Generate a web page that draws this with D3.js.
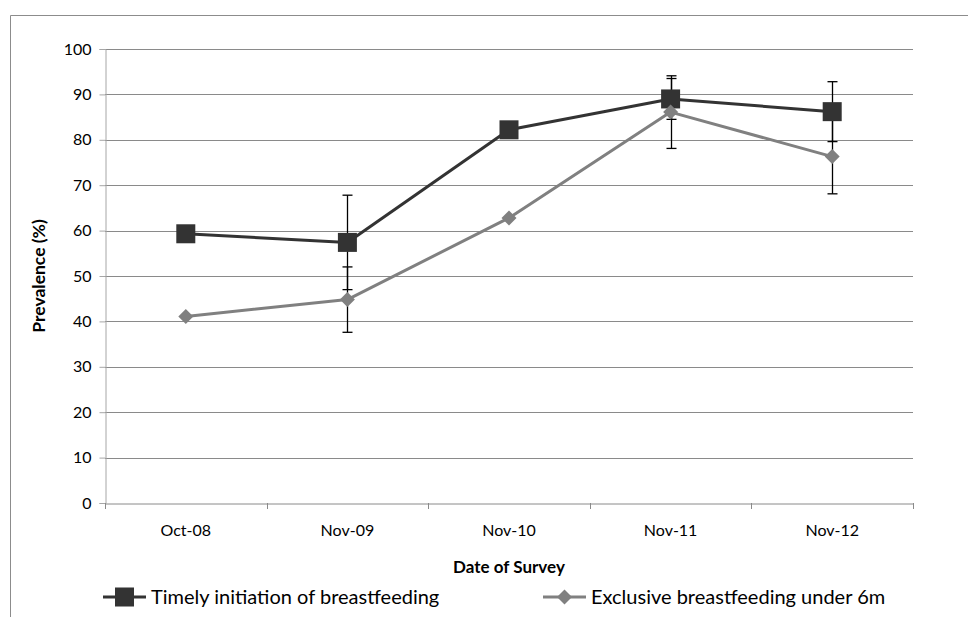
<!DOCTYPE html>
<html>
<head>
<meta charset="utf-8">
<script src="https://cdn.jsdelivr.net/npm/d3@7"></script>
<style>
  html, body { margin: 0; padding: 0; background: #fff; }
  svg { display: block; font-family: Lato, "Open Sans", sans-serif; }
</style>
</head>
<body>
<svg id="chart" width="968" height="617"></svg>
<script>
// Survey rounds
const surveys = ["Oct-08", "Nov-09", "Nov-10", "Nov-11", "Nov-12"];

// Prevalence (%) per survey
const timelyInitiation = [59.3, 57.4, 82.2, 89.0, 86.2];
const exclusiveUnder6m = [41.1, 44.8, 62.8, 86.1, 76.3];

// 95% confidence half-widths (null where not reported)
const timelyError = [null, 10.4, null, 4.5, 6.6];
const exclusiveError = [null, 7.2, null, 8.0, 8.2];

const yTicks = [0, 10, 20, 30, 40, 50, 60, 70, 80, 90, 100];

const series = [
  { name: "Timely initiation of breastfeeding", values: timelyInitiation, errors: timelyError,
    color: "#333333", marker: "square" },
  { name: "Exclusive breastfeeding under 6m", values: exclusiveUnder6m, errors: exclusiveError,
    color: "#808080", marker: "diamond" }
];

const svg = d3.select("#chart");
const plot = { left: 105, right: 913, top: 49, bottom: 503 };

// Outer chart frame
svg.append("path")
  .attr("d", "M10.5,617 L10.5,15.5 L968,15.5")
  .attr("fill", "none").attr("stroke", "#8c8c8c").attr("stroke-width", 1);

const x = d3.scaleBand().domain(surveys).range([plot.left, plot.right]);
const y = d3.scaleLinear().domain([0, 100]).range([plot.bottom, plot.top]);
const cx = d => x(d) + x.bandwidth() / 2;

// Horizontal gridlines
svg.append("g").selectAll("line").data(yTicks.filter(t => t > 0)).join("line")
  .attr("x1", plot.left).attr("x2", plot.right)
  .attr("y1", d => Math.round(y(d)) + 0.5).attr("y2", d => Math.round(y(d)) + 0.5)
  .attr("stroke", "#8a8a8a").attr("stroke-width", 1);

// Y axis
const yAxis = svg.append("g")
  .attr("transform", `translate(${plot.left + 0.5},0)`)
  .call(d3.axisLeft(y).tickValues(yTicks).tickSize(6).tickPadding(8));
yAxis.select(".domain").attr("stroke", "#a6a6a6");
yAxis.selectAll(".tick line").attr("stroke", "#a6a6a6");
yAxis.selectAll(".tick text").attr("font-size", 16).attr("fill", "#000")
  .attr("font-family", "Lato, sans-serif");

// X axis
const xAxis = svg.append("g")
  .attr("transform", `translate(0,${Math.round(plot.bottom) + 0.5})`)
  .call(d3.axisBottom(x).tickSize(0).tickPadding(21));
xAxis.select(".domain").attr("stroke", "#8a8a8a");
xAxis.selectAll(".tick text").attr("font-size", 16).attr("fill", "#000")
  .attr("font-family", "Lato, sans-serif");
// Category boundary ticks
const bounds = surveys.map(d => x(d)).concat([plot.right]);
svg.append("g").selectAll("line").data(bounds).join("line")
  .attr("x1", d => Math.round(d) + 0.5).attr("x2", d => Math.round(d) + 0.5)
  .attr("y1", plot.bottom).attr("y2", plot.bottom + 6)
  .attr("stroke", "#8a8a8a");

// Axis titles
svg.append("text")
  .attr("transform", `translate(45,${(plot.top + plot.bottom) / 2}) rotate(-90)`)
  .attr("text-anchor", "middle").attr("font-weight", "bold").attr("font-size", 17.5)
  .text("Prevalence (%)");
svg.append("text")
  .attr("x", (plot.left + plot.right) / 2).attr("y", 573)
  .attr("text-anchor", "middle").attr("font-weight", "bold").attr("font-size", 17)
  .text("Date of Survey");

// Series lines
const line = d3.line().x((d, i) => cx(surveys[i])).y(d => y(d));
series.forEach(s => {
  svg.append("path").datum(s.values)
    .attr("d", line).attr("fill", "none")
    .attr("stroke", s.color).attr("stroke-width", 3).attr("stroke-linejoin", "round");
});

// Error bars
series.forEach(s => {
  const g = svg.append("g").attr("stroke", "#000").attr("stroke-width", 1.3);
  s.values.forEach((v, i) => {
    const e = s.errors[i];
    if (e == null) return;
    const xc = Math.round(cx(surveys[i])) + 0.5;
    g.append("line").attr("x1", xc).attr("x2", xc).attr("y1", y(v + e)).attr("y2", y(v - e));
    [v + e, v - e].forEach(b => {
      g.append("line").attr("x1", xc - 5).attr("x2", xc + 5).attr("y1", y(b)).attr("y2", y(b));
    });
  });
});

// Markers
function drawMarker(g, type, color, xc, yc) {
  if (type === "square") {
    g.append("rect").attr("x", xc - 9.5).attr("y", yc - 9.5)
      .attr("width", 19).attr("height", 19).attr("fill", color);
  } else {
    const r = 7.5;
    g.append("path")
      .attr("d", `M${xc},${yc - r}L${xc + r},${yc}L${xc},${yc + r}L${xc - r},${yc}Z`)
      .attr("fill", color);
  }
}
series.forEach(s => {
  const g = svg.append("g");
  s.values.forEach((v, i) => drawMarker(g, s.marker, s.color, cx(surveys[i]), y(v)));
});

// Legend
const legendItems = [{ s: series[0], x0: 103 }, { s: series[1], x0: 543 }];
legendItems.forEach(({ s, x0 }) => {
  const g = svg.append("g");
  const ly = 597;
  g.append("line").attr("x1", x0).attr("x2", x0 + 43).attr("y1", ly).attr("y2", ly)
    .attr("stroke", s.color).attr("stroke-width", 3);
  drawMarker(g, s.marker, s.color, x0 + 21.5, ly);
  g.append("text").attr("x", x0 + 48).attr("y", ly).attr("dy", "0.35em")
    .attr("font-size", 20).attr("fill", "#000").text(s.name);
});
</script>
</body>
</html>
